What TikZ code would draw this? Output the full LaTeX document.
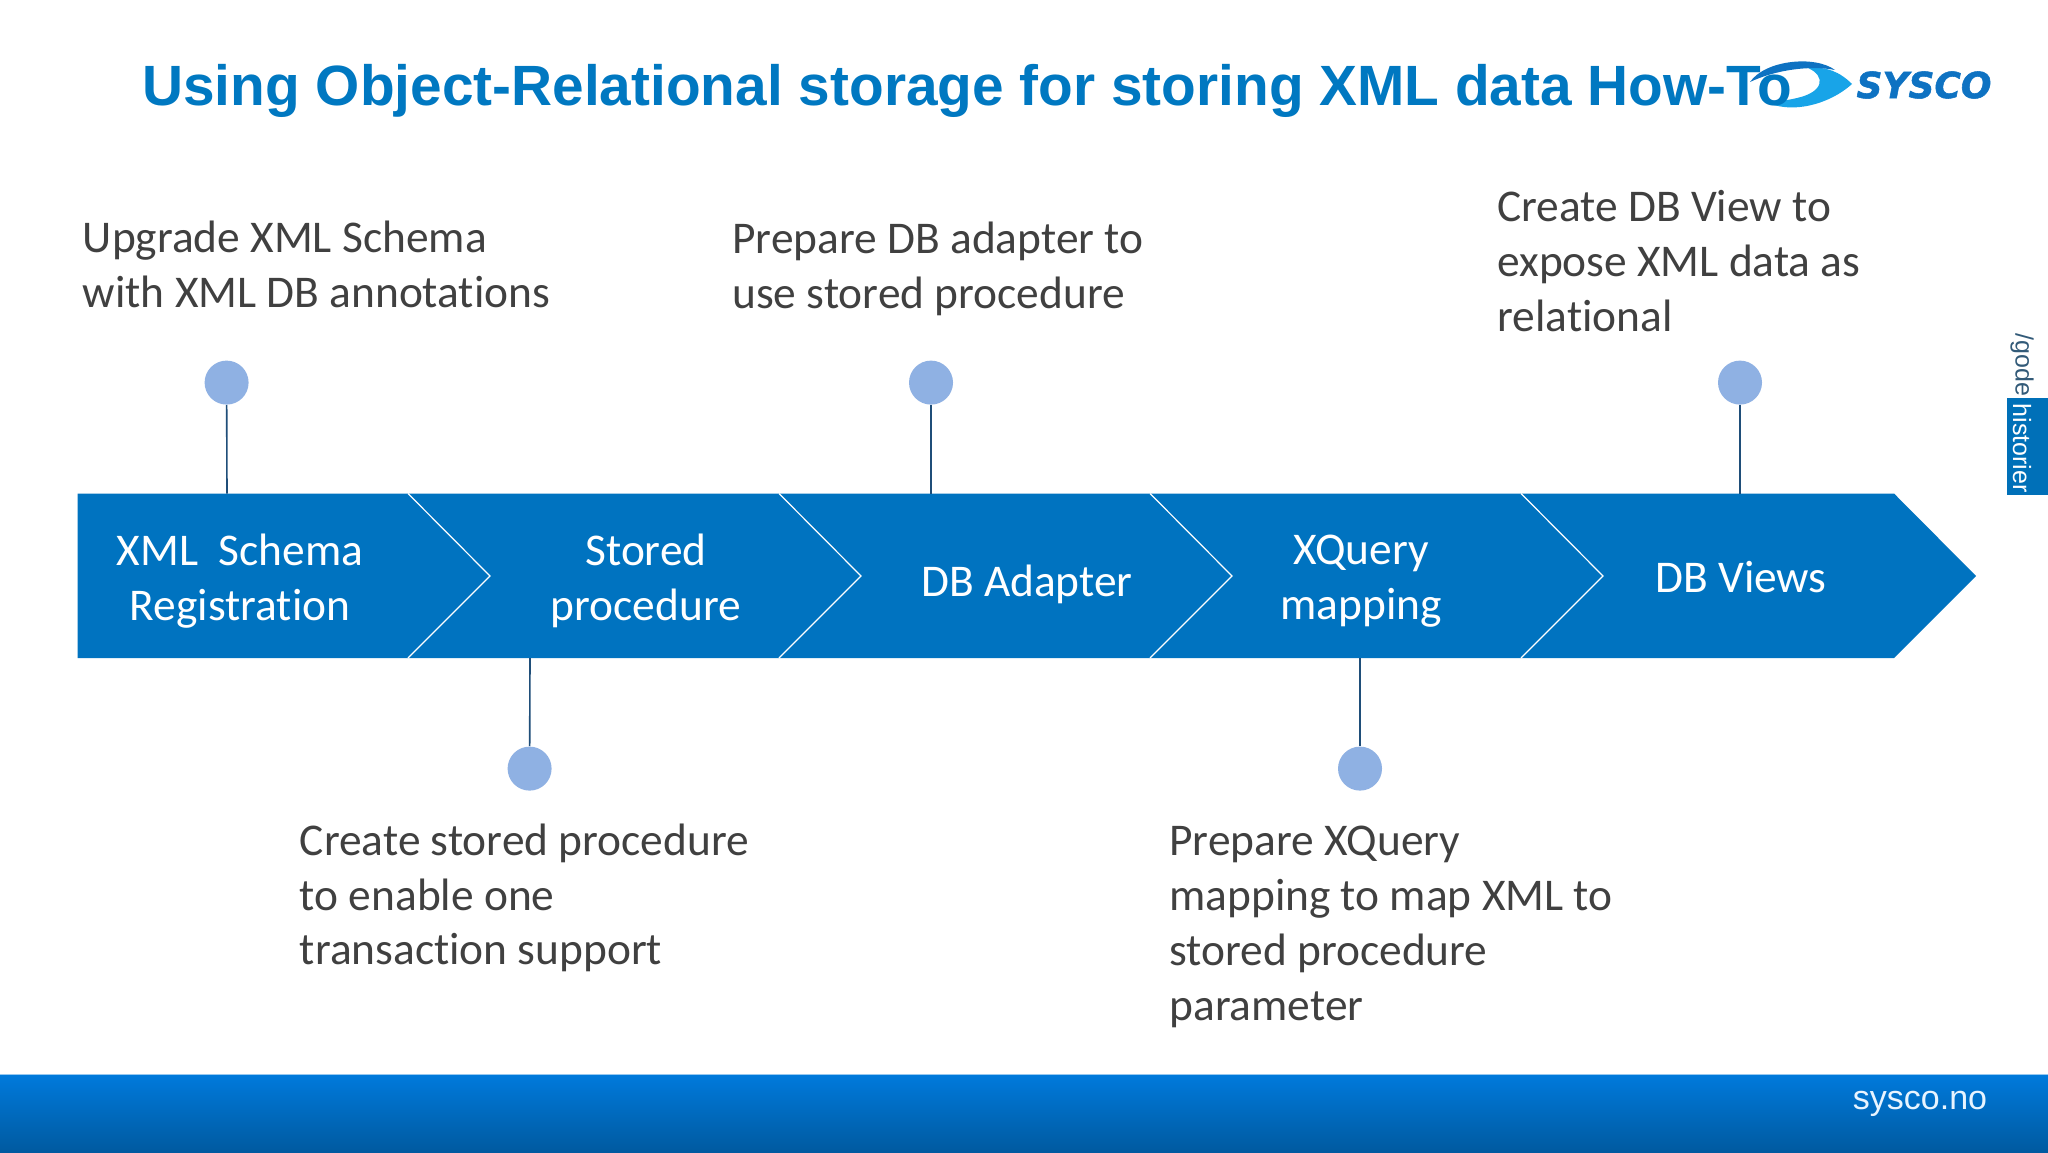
\documentclass[tikz,border=0pt]{standalone}
\usepackage{fontspec}
\setmainfont{Carlito}[Ligatures=NoCommon]
\newfontfamily\titlefont{Liberation Sans}
\newfontfamily\logofont{DejaVu Sans}[BoldItalicFeatures={FakeBold=1.5}]

\begin{document}
\begin{tikzpicture}[x=0.5pt,y=-0.5pt]
    % Node styles
    \tikzstyle{none}=[inner sep=0mm]
    \tikzstyle{step label}=[inner sep=0mm, text=white, align=center, font=\fontsize{22.7}{27.4}\selectfont]
    \tikzstyle{note text}=[inner sep=0mm, anchor=west, align=left, text={rgb,255: red,64; green,64; blue,64}, font=\fontsize{22.7}{27.4}\selectfont]
    \tikzstyle{blue dot}=[circle, inner sep=0mm, minimum size=22pt, fill={rgb,255: red,143; green,177; blue,227}]
    % Edge styles
    \tikzstyle{stem}=[draw={rgb,255: red,31; green,78; blue,121}, line width=0.8pt]
    \tikzstyle{chevron}=[draw=white, line width=0.6pt]

    \useasboundingbox (0, 0) rectangle (2048, 1152);
    \fill [white] (0, 0) rectangle (2048, 1152);

    % footer
    \shade [top color={rgb,255: red,0; green,122; blue,220}, bottom color={rgb,255: red,0; green,90; blue,160}] (0, 1074) rectangle (2048, 1152);
    \draw [draw={rgb,255: red,150; green,200; blue,240}, line width=0.5pt] (0, 1074) to (2048, 1074);
    \node [style=none, text={rgb,255: red,232; green,244; blue,255}, font=\titlefont\fontsize{17}{20}\selectfont] (30) at (1920, 1104) {sysco.no};

    % side tab
    \fill [fill={rgb,255: red,0; green,112; blue,184}] (2007, 398) rectangle (2048, 495);
    \node [style=none, rotate=-90, text={rgb,255: red,50; green,90; blue,120}, font=\titlefont\fontsize{12.5}{15}\selectfont] (31) at (2022, 365) {/gode};
    \node [style=none, rotate=-90, text=white, font=\titlefont\fontsize{12.5}{15}\selectfont] (32) at (2022, 448) {historier};

    % logo
    \fill [fill={rgb,255: red,24; green,164; blue,232}] (1762, 100) .. controls (1790, 116) and (1830, 104) .. (1852, 84) .. controls (1840, 72) and (1826, 66) .. (1808, 68) .. controls (1826, 76) and (1824, 92) .. (1797, 98) .. controls (1785, 101) and (1772, 102) .. (1762, 100);
    \fill [fill={rgb,255: red,14; green,114; blue,194}] (1750, 82) .. controls (1765, 60) and (1815, 55) .. (1835, 70) .. controls (1810, 65) and (1775, 70) .. (1750, 82);
    \node [style=none, text={rgb,255: red,14; green,114; blue,194}, font=\logofont\bfseries\itshape\fontsize{18}{20}\selectfont] (33) at (1924, 85) {SYSCO};

    % title
    \node [style=none, anchor=west, text={rgb,255: red,0; green,120; blue,193}, font=\titlefont\bfseries\fontsize{28.4}{34}\selectfont] (0) at (142, 91) {Using Object-Relational storage for storing XML data How-To};

    % process band
    \fill [fill={rgb,255: red,0; green,115; blue,192}] (77.5, 493.5) -- (1894, 493.5) -- (1976, 576) -- (1894, 658) -- (77.5, 658) -- cycle;
    \foreach \notch/\tip in {408/490, 779/861, 1150/1232, 1521/1603} {
        \draw [style=chevron] (\notch, 493.5) -- (\tip, 576) -- (\notch, 658);
    }
    \node [style=step label] (1) at (240, 581) {XML\ \ Schema\\Registration};
    \node [style=step label] (2) at (646, 580.5) {Stored\\procedure};
    \node [style=step label] (3) at (1027, 584) {DB Adapter};
    \node [style=step label] (4) at (1361, 581.5) {XQuery\\mapping};
    \node [style=step label] (5) at (1741, 577) {DB Views};

    % notes
    \node [style=note text] (6) at (82.5, 264.5) {Upgrade XML Schema\\with XML DB annotations};
    \node [style=note text] (7) at (732, 268.5) {Prepare DB adapter to\\use stored procedure};
    \node [style=note text] (8) at (1497, 261) {Create DB View to\\expose XML data as\\relational};
    \node [style=note text] (9) at (299.5, 898) {Create stored procedure\\to enable one\\transaction support};
    \node [style=note text] (10) at (1169, 927) {Prepare XQuery\\mapping to map XML to\\stored procedure\\parameter};

    % dots
    \node [style=blue dot] (11) at (226.6, 382.6) {};
    \node [style=blue dot] (12) at (931, 382.6) {};
    \node [style=blue dot] (13) at (1740, 382.6) {};
    \node [style=blue dot] (14) at (529.6, 768.6) {};
    \node [style=blue dot] (15) at (1360, 768.6) {};
    \node [style=none] (16) at (227, 493.5) {};
    \node [style=none] (17) at (931, 493.5) {};
    \node [style=none] (18) at (1740, 493.5) {};
    \node [style=none] (19) at (530, 658) {};
    \node [style=none] (20) at (1360, 658) {};

    \draw [style=stem] (11) to (16.center);
    \draw [style=stem] (12) to (17.center);
    \draw [style=stem] (13) to (18.center);
    \draw [style=stem] (14) to (19.center);
    \draw [style=stem] (15) to (20.center);
\end{tikzpicture}
\end{document}
